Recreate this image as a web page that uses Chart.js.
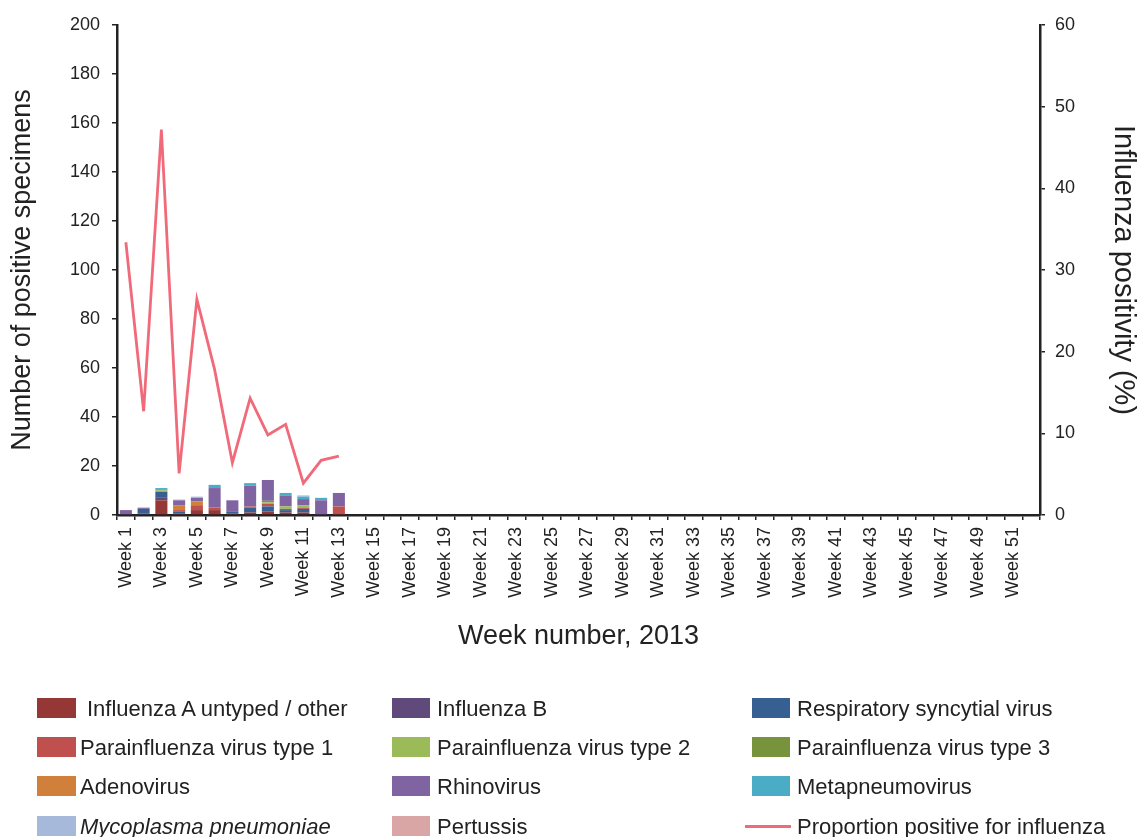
<!DOCTYPE html>
<html>
<head>
    <title>Positive specimens by week, 2013</title>
    <script src="https://cdn.jsdelivr.net/npm/chart.js"></script>
    <style>
        body { margin: 0; background: #fff; font-family: "Liberation Sans", Arial, sans-serif; }
        #wrap { position: relative; width: 1140px; height: 837px; }
        #legenda { position: absolute; left: 0; top: 0; width: 1140px; height: 837px; pointer-events: none; }
        .box { position: absolute; height: 20px; }
        .txt { position: absolute; font-size: 22px; line-height: 20px; color: #222; white-space: nowrap; }
    </style>
</head>
<body>
<div id="wrap">
    <canvas id="grafico"></canvas>
    <div id="legenda"></div>
</div>
<script>
    // semanas (eixo x) - rótulo mostrado só nas semanas ímpares
    const semanas = ['Week 1','Week 2','Week 3','Week 4','Week 5','Week 6','Week 7','Week 8','Week 9','Week 10',
        'Week 11','Week 12','Week 13','Week 14','Week 15','Week 16','Week 17','Week 18','Week 19','Week 20',
        'Week 21','Week 22','Week 23','Week 24','Week 25','Week 26','Week 27','Week 28','Week 29','Week 30',
        'Week 31','Week 32','Week 33','Week 34','Week 35','Week 36','Week 37','Week 38','Week 39','Week 40',
        'Week 41','Week 42','Week 43','Week 44','Week 45','Week 46','Week 47','Week 48','Week 49','Week 50',
        'Week 51','Week 52'];

    // contagens por semana (só há dados até a semana 13)
    const fluA   = [0, 0, 6, 0.5, 2, 2, 0.5, 1, 1.5, 1, 1, 0, 0];
    const fluB   = [0, 0.5, 1, 0, 0, 0, 0, 0, 0, 0, 0, 0.3, 0];
    const rsv    = [0, 2, 2.5, 1, 0, 0, 1, 2, 2, 1, 1.5, 0, 0];
    const piv1   = [0, 0, 0, 0.5, 2, 1, 0, 0.5, 1, 0.5, 0.5, 0, 3.5];
    const piv2   = [0, 0, 0.5, 0, 0, 0, 0, 0, 0.7, 1, 1, 0, 0];
    const piv3   = [0, 0, 0.5, 0, 0, 0, 0, 0, 0.6, 0, 0, 0, 0];
    const adeno  = [0, 0, 0, 2, 1.5, 0, 0, 0, 0, 0, 0, 0, 0];
    const rhino  = [2, 0.5, 0, 2, 1.5, 8, 4.5, 8.5, 8.5, 4.5, 2.5, 5.7, 5.5];
    const metap  = [0, 0, 0.5, 0, 0, 1.3, 0, 1, 0, 1, 1, 1, 0];
    const myco   = [0, 0, 0, 0.3, 0.5, 0, 0, 0, 0, 0, 0.5, 0, 0];
    const pert   = [0, 0, 0, 0, 0, 0, 0, 0, 0, 0, 0, 0, 0];

    // % positivo para influenza
    const positividade = [33.4, 12.7, 47.2, 5.1, 26.4, 17.8, 6.4, 14.3, 9.8, 11.1, 3.9, 6.7, 7.2];

    const nomes = ['Influenza A untyped / other', 'Influenza B', 'Respiratory syncytial virus',
        'Parainfluenza virus type 1', 'Parainfluenza virus type 2', 'Parainfluenza virus type 3',
        'Adenovirus', 'Rhinovirus', 'Metapneumovirus', 'Mycoplasma pneumoniae', 'Pertussis'];
    const cores = ['#953735', '#604a7b', '#376092', '#c0504d', '#9bbb59', '#77933c',
        '#d0803a', '#8064a2', '#4bacc6', '#a7b9db', '#d9a5a5'];
    const series = [fluA, fluB, rsv, piv1, piv2, piv3, adeno, rhino, metap, myco, pert];
    const nomeLinha = 'Proportion positive for influenza';
    const corLinha = '#f06a7a';

    const fonte = '"Liberation Sans", Arial, sans-serif';

    const datasets = series.map((s, i) => ({
        type: 'bar',
        label: nomes[i],
        data: s,
        backgroundColor: cores[i],
        yAxisID: 'y',
        stack: 'virus',
        barPercentage: 0.68,
        categoryPercentage: 1,
        order: 2
    }));
    datasets.push({
        type: 'line',
        label: nomeLinha,
        data: positividade,
        borderColor: corLinha,
        borderWidth: 2.8,
        pointRadius: 0,
        tension: 0,
        yAxisID: 'y1',
        order: 1
    });

    const canvas = document.getElementById('grafico');
    canvas.width = 1140;
    canvas.height = 837;

    const marcas = { drawOnChartArea: false, color: '#222', tickLength: 5, lineWidth: 1.5 };
    const borda = { display: true, color: '#222', width: 2.5 };

    new Chart(canvas.getContext('2d'), {
        data: { labels: semanas, datasets: datasets },
        options: {
            responsive: false,
            animation: false,
            layout: { padding: { top: 25, left: 0, right: 0, bottom: 182 } },
            plugins: { legend: { display: false }, tooltip: { enabled: false } },
            scales: {
                x: {
                    stacked: true,
                    grid: marcas,
                    border: borda,
                    afterFit: s => { s.height = 140; },
                    ticks: {
                        autoSkip: false, minRotation: 90, maxRotation: 90, padding: 7,
                        color: '#222', font: { family: fonte, size: 18 },
                        callback: (v, i) => i % 2 === 0 ? semanas[i] : ''
                    },
                    title: { display: true, text: 'Week number, 2013', color: '#222',
                        font: { family: fonte, size: 27 }, padding: { top: 0, bottom: 2 } }
                },
                y: {
                    stacked: true,
                    position: 'left',
                    min: 0, max: 200,
                    grid: marcas,
                    border: borda,
                    afterFit: s => { s.width = 117; },
                    ticks: { stepSize: 20, color: '#222', font: { family: fonte, size: 18 }, padding: 12 },
                    title: { display: true, text: 'Number of positive specimens', color: '#222',
                        font: { family: fonte, size: 27 }, padding: { top: 6, bottom: 0 } }
                },
                y1: {
                    position: 'right',
                    min: 0, max: 60,
                    grid: marcas,
                    border: borda,
                    afterFit: s => { s.width = 100; },
                    ticks: { stepSize: 10, color: '#222', font: { family: fonte, size: 18 }, padding: 10 },
                    title: { display: true, text: 'Influenza positivity (%)', color: '#222',
                        font: { family: fonte, size: 29 }, padding: { top: 0, bottom: 0 } }
                }
            }
        }
    });

    // legenda em grade 3 colunas, como no original
    const legenda = document.getElementById('legenda');
    const boxX = [37, 392, 752];
    const boxW = [39, 38, 38];
    const linhaY = [698, 737, 776, 816];
    const txtX = [87, 437, 797, 80, 437, 797, 80, 437, 797, 80, 437, 797];
    const itens = nomes.map((n, i) => ({ nome: n, cor: cores[i] }));
    itens.push({ nome: nomeLinha, cor: corLinha, linha: true });
    itens.forEach((it, i) => {
        const c = i % 3, r = Math.floor(i / 3);
        const box = document.createElement('div');
        box.className = 'box';
        box.style.background = it.cor;
        if (it.linha) {
            box.style.left = '745px';
            box.style.width = '46px';
            box.style.height = '2.5px';
            box.style.top = (linhaY[r] + 9) + 'px';
        } else {
            box.style.left = boxX[c] + 'px';
            box.style.width = boxW[c] + 'px';
            box.style.top = linhaY[r] + 'px';
        }
        const t = document.createElement('div');
        t.className = 'txt';
        t.style.left = txtX[i] + 'px';
        t.style.top = (linhaY[r] + 1) + 'px';
        t.textContent = it.nome;
        if (it.nome === 'Mycoplasma pneumoniae') t.style.fontStyle = 'italic';
        legenda.appendChild(box);
        legenda.appendChild(t);
    });
</script>
</body>
</html>
